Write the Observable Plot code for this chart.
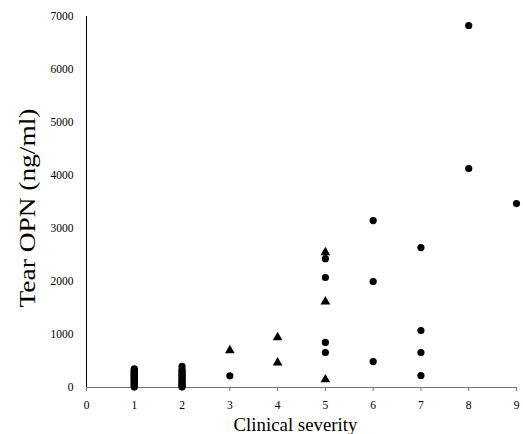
<!DOCTYPE html>
<html><head><meta charset="utf-8">
<script src="https://cdn.jsdelivr.net/npm/d3@7"></script>
<script src="https://cdn.jsdelivr.net/npm/@observablehq/plot@0.6"></script>
<style>
body{margin:0;background:#fff;}
svg text{font-family:"Liberation Serif","Times New Roman",serif !important;fill:#000;}
g[aria-label="x-axis tick label"] text, g[aria-label="y-axis tick label"] text{font-size:11.5px;}
g[aria-label="y-axis label"] text{font-size:23px;}
g[aria-label="x-axis label"] text{font-size:19px;}
</style>
</head><body><div id="chart"></div>
<script>
const severity = [1,1,1,1,1,1,1,1,1,1,1,1,1,1,1,1,1,1, 2,2,2,2,2,2,2,2,2,2,2,2,2,2, 3,3, 4,4, 5,5,5,5,5,5,5, 6,6,6, 7,7,7,7, 8,8, 9];
const opn = [10,30,50,70,90,110,130,150,170,190,210,230,250,270,290,310,330,350,
             10,30,50,80,100,130,160,190,220,250,280,310,340,400,
             700,220, 945,470, 2550,1620,150,2430,2075,850,660, 3150,2000,490, 2640,1075,660,226, 6830,4130, 3470];
const group = ["circle","circle","circle","circle","circle","circle","circle","circle","circle","circle","circle","circle","circle","circle","circle","circle","circle","circle",
               "circle","circle","circle","circle","circle","circle","circle","circle","circle","circle","circle","circle","circle","circle",
               "triangle","circle", "triangle","triangle", "triangle","triangle","triangle","circle","circle","circle","circle",
               "circle","circle","circle", "circle","circle","circle","circle", "circle","circle", "circle"];
const xTicks = [0,1,2,3,4,5,6,7,8,9];
const yTicks = [0,1000,2000,3000,4000,5000,6000,7000];

const data = severity.map((s,i)=>({s, v: opn[i], g: group[i]}));

const chart = Plot.plot({
  width: 523, height: 434,
  marginLeft: 86, marginRight: 7, marginTop: 16, marginBottom: 47,
  style: {fontFamily: '"Liberation Serif","Times New Roman",serif', fontSize: "11.5px", color: "#000"},
  x: {domain: [0,9]},
  y: {domain: [0,7000]},
  symbol: {domain: ["circle","triangle"], range: ["circle","triangle"]},
  marks: [
    Plot.axisX({ticks: xTicks, tickSize: 4, tickPadding: 9, tickFormat: d=>String(d), label: "Clinical severity", labelAnchor: "center", labelOffset: 43, labelArrow: "none", stroke: "#777"}),
    Plot.axisY({ticks: yTicks, tickSize: 0, tickPadding: 13, tickFormat: d=>String(d), label: "Tear OPN (ng/ml)", labelAnchor: "center", labelOffset: 68, labelArrow: "none"}),
    Plot.ruleY([0], {stroke: "#777"}),
    Plot.ruleX([0], {stroke: "#000"}),
    Plot.dot(data, {x: "s", y: "v", symbol: "g", fill: "#000", r: 3.6})
  ]
});
d3.select(chart).select('g[aria-label="y-axis label"] text')
  .attr("textLength", 199).attr("lengthAdjust", "spacingAndGlyphs").attr("dx", -6);
d3.select(chart).select('g[aria-label="x-axis label"] text')
  .attr("textLength", 124).attr("lengthAdjust", "spacingAndGlyphs").attr("dx", -6);
document.getElementById("chart").appendChild(chart);
</script>
</body></html>
